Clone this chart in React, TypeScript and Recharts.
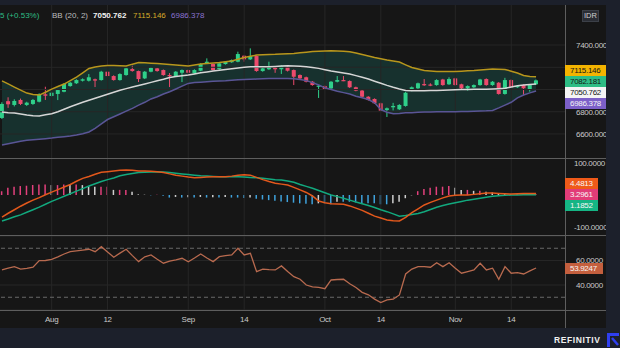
import React from 'react';
import { ComposedChart, Bar, Line, Area, XAxis, YAxis, CartesianGrid, ReferenceLine, Cell } from 'recharts';

// daily candles (IDR)
const OPEN = [6744, 6895, 6861, 6906, 6861, 6870, 6890, 6957, 6942, 6960, 6980, 7031, 7056, 7079, 7079, 7092, 7085, 7160, 7121, 7085, 7130, 7184, 7166, 7100, 7160, 7190, 7175, 7130, 7121, 7151, 7175, 7146, 7169, 7235, 7229, 7184, 7229, 7245, 7250, 7304, 7271, 7301, 7166, 7182, 7196, 7182, 7205, 7175, 7130, 7110, 7070, 7031, 7031, 7010, 7070, 7085, 7076, 7020, 6990, 6935, 6915, 6876, 6816, 6840, 6822, 6852, 6990, 7011, 7049, 7045, 7040, 7090, 7047, 7100, 7047, 7011, 7020, 7040, 7094, 7040, 7061, 6960, 7085, 7020, 7040, 7002, 7047];
const CLOSE = [6870, 6867, 6897, 6870, 6882, 6906, 6957, 6944, 6971, 6995, 7050, 7061, 7085, 7092, 7110, 7080, 7160, 7121, 7085, 7139, 7190, 7166, 7094, 7160, 7196, 7166, 7130, 7121, 7160, 7175, 7151, 7175, 7229, 7250, 7175, 7235, 7250, 7265, 7319, 7271, 7301, 7166, 7190, 7205, 7182, 7211, 7169, 7115, 7100, 7070, 7040, 7035, 7002, 7070, 7085, 7080, 7020, 6990, 6935, 6906, 6876, 6810, 6831, 6852, 6861, 6971, 7020, 7056, 7038, 7036, 7085, 7040, 7094, 7040, 7011, 7031, 7040, 7090, 7040, 7070, 6960, 7085, 7020, 7031, 7011, 7040, 7082];
const HIGH = [6885, 6930, 6912, 6918, 6890, 6915, 6966, 7025, 6980, 7002, 7058, 7068, 7092, 7100, 7139, 7098, 7168, 7166, 7128, 7146, 7196, 7214, 7170, 7166, 7202, 7195, 7180, 7148, 7166, 7180, 7180, 7182, 7236, 7280, 7234, 7240, 7256, 7270, 7340, 7310, 7370, 7306, 7196, 7250, 7202, 7218, 7210, 7180, 7136, 7116, 7076, 7042, 7036, 7076, 7121, 7121, 7082, 7026, 6996, 6940, 6920, 6882, 6838, 6880, 6868, 6978, 7027, 7062, 7094, 7056, 7092, 7096, 7110, 7106, 7052, 7037, 7046, 7096, 7100, 7076, 7067, 7105, 7092, 7037, 7046, 7046, 7090];
const LOW = [6735, 6835, 6848, 6860, 6852, 6862, 6884, 6906, 6935, 6905, 6975, 7025, 7050, 7072, 7072, 7022, 7080, 7115, 7080, 7080, 7124, 7160, 7067, 7094, 7155, 7160, 7124, 7022, 7115, 7067, 7146, 7140, 7164, 7230, 7169, 7178, 7224, 7240, 7245, 7250, 7266, 7160, 7160, 7176, 7150, 7140, 7162, 7040, 7094, 7064, 7034, 6924, 6996, 7004, 7064, 7075, 7014, 6984, 6929, 6900, 6870, 6804, 6753, 6812, 6816, 6846, 6984, 7005, 7032, 7030, 7034, 7034, 7041, 7034, 7005, 6990, 7014, 7034, 7034, 7034, 6954, 6954, 7014, 7014, 6950, 6980, 7041];

// Bollinger (20, 2)
const BB_UPPER = [7077, 7050, 7022, 6995, 6968, 6955, 6950, 6975, 7004, 7027, 7049, 7080, 7112, 7150, 7189, 7203, 7211, 7215, 7216, 7214, 7211, 7228, 7243, 7240, 7237, 7234, 7229, 7224, 7220, 7215, 7211, 7220, 7229, 7234, 7238, 7243, 7250, 7256, 7272, 7288, 7300, 7310, 7313, 7315, 7316, 7319, 7322, 7324, 7330, 7336, 7342, 7345, 7347, 7349, 7347, 7344, 7340, 7328, 7315, 7302, 7288, 7277, 7265, 7256, 7247, 7222, 7198, 7184, 7171, 7166, 7162, 7162, 7162, 7162, 7165, 7168, 7171, 7176, 7180, 7184, 7183, 7180, 7165, 7148, 7126, 7118, 7115];
const BB_MID = [6798, 6792, 6788, 6780, 6770, 6763, 6762, 6772, 6782, 6800, 6822, 6845, 6865, 6886, 6904, 6922, 6940, 6958, 6975, 6993, 7008, 7022, 7036, 7050, 7064, 7078, 7092, 7108, 7116, 7124, 7130, 7140, 7150, 7158, 7166, 7173, 7180, 7187, 7194, 7200, 7205, 7205, 7205, 7205, 7208, 7211, 7214, 7212, 7209, 7205, 7198, 7190, 7178, 7166, 7157, 7148, 7139, 7125, 7110, 7094, 7075, 7056, 7037, 7020, 7005, 6992, 6988, 6988, 6989, 6990, 6992, 6994, 6995, 6997, 6999, 7001, 7002, 7002, 7002, 7004, 7007, 7011, 7022, 7033, 7040, 7045, 7050];
const BB_LOWER = [6501, 6512, 6523, 6534, 6543, 6548, 6553, 6558, 6563, 6570, 6576, 6582, 6590, 6602, 6618, 6650, 6690, 6730, 6755, 6780, 6805, 6830, 6860, 6885, 6915, 6935, 6960, 6980, 7005, 7030, 7055, 7062, 7066, 7070, 7074, 7077, 7079, 7083, 7087, 7090, 7092, 7094, 7097, 7100, 7100, 7100, 7100, 7096, 7090, 7080, 7062, 7040, 7015, 7000, 6985, 6972, 6959, 6940, 6925, 6910, 6880, 6820, 6795, 6782, 6785, 6790, 6792, 6795, 6797, 6798, 6799, 6800, 6800, 6801, 6802, 6803, 6805, 6806, 6808, 6812, 6835, 6860, 6885, 6925, 6950, 6970, 6986];

// MACD
const MACD = [-69, -57, -46, -35, -25, -16, -8, 1, 9, 17, 25, 33, 43, 52, 58, 65, 71, 73, 75, 77, 78, 77, 75, 75, 74, 73, 70, 66, 62, 59, 56, 54, 55, 56, 57, 57, 57, 59, 62, 63, 62, 55, 48, 42, 37, 34, 31, 24, 16, 8, -3, -19, -24, -27, -28, -29, -34, -41, -48, -57, -66, -72, -78, -80, -81, -70, -55, -43, -31, -23, -16, -9, -3, -1, 0, 0, 2, 4, 6, 6, 5, 4, 3, 4, 5, 4.5, 4.48];
const SIGNAL = [-81, -75, -68, -62, -54, -46, -38, -29, -20, -12, -4, 4, 12, 20, 28, 35, 42, 48, 53, 60, 64, 67, 70, 71, 72, 73, 72, 70, 68, 66, 64, 62, 60, 59, 58, 57, 57, 57, 57, 56, 55, 54, 52, 50, 48, 47, 44, 40, 33, 27, 21, 14, 7, 0, -5, -10, -16, -22, -27, -33, -39, -46, -52, -59, -66, -64, -61, -58, -52, -45, -38, -33, -28, -24, -20, -16, -13, -10, -7, -4, -2, -1, 0, 0, 0.5, 1, 1.19];
const HIST = [12, 23, 26, 28, 29, 31, 33, 33, 31, 31, 33, 31, 33, 31, 28, 26, 26, 26, 16, 16, 16, 10, 2, 1, -1, 1, -2, -8, -6, -8, -7, -8, -6, -8, -7, -8, -6, -8, -8, -9, -8, -12, -14, -16, -18, -20, -22, -24, -26, -27, -29, -26, -26, -29, -21, -21, -21, -23, -26, -26, -26, -29, -29, -26, -21, -10, -1, 12, 19, 23, 26, 26, 28, 23, 16, 16, 13, 13, 10, 8, 5, 3, 2, 2, 3, 3, 3.3];

// RSI
const RSI = [52.3, 53.7, 55, 52.9, 53.5, 54.5, 59.9, 60, 61, 63, 65.3, 67.2, 67.8, 68.5, 69.2, 67.2, 71.3, 67, 62.7, 66, 69.2, 64, 59.1, 63, 64.5, 61, 57.8, 59.5, 60.5, 61.8, 59, 62, 65.3, 62, 59.1, 63.1, 64, 64.5, 70, 64.5, 65.9, 50.9, 52.9, 52.5, 52.3, 55.6, 51, 46.8, 44.7, 40, 38.5, 38, 37, 44.1, 44.5, 44.7, 41, 38, 34, 32, 28.5, 25.6, 27.8, 28.4, 31.9, 49, 53, 55, 55, 54.5, 58.2, 55, 58.2, 53.7, 49.6, 51, 52.3, 57.8, 52.3, 53.7, 44.7, 55, 49.6, 50.1, 49, 51.5, 53.9];

const TICK_IDX = [8, 17, 30, 39, 52, 61, 73, 82];
const TICK_LABELS = ['Aug', '12', 'Sep', '14', 'Oct', '14', 'Nov', '14'];
const PRICE_TICKS = [6600, 6800, 7400];
const PRICE_GRID = [6600, 6800, 7000, 7200, 7400];

const data = OPEN.map((o, i) => ({
  i, open: o, close: CLOSE[i], high: HIGH[i], low: LOW[i],
  upper: BB_UPPER[i], mid: BB_MID[i], lower: BB_LOWER[i], band: [BB_LOWER[i], BB_UPPER[i]],
  macd: MACD[i], signal: SIGNAL[i], hist: HIST[i], rsi: RSI[i],
}));

const BG = '#161616';
const NAVY = '#1c202b';
const GRID = '#262626';
const SEP = '#5e5e5e';
const AXIS_TXT = '#c9c9c9';
const UP = '#2fd08a';
const DOWN = '#ec4a6c';
const FONT = '"Liberation Sans", Arial, sans-serif';
const X_DOMAIN = [-0.32, 90.66];
const W = 606;

const tickStyle = { fill: AXIS_TXT, fontSize: 8, fontFamily: FONT, letterSpacing: -0.3 };

const Candle = (props: any) => {
  const { x, y, width, height, payload } = props;
  if (!payload) return null;
  const { open, close, high, low } = payload;
  const color = close >= open ? UP : DOWN;
  const cx = x + width / 2;
  const py = (p: number) => y + ((high - p) / (high - low)) * height;
  const top = py(Math.max(open, close));
  const bot = py(Math.min(open, close));
  return (
    <g>
      <line x1={cx} x2={cx} y1={y} y2={y + height} stroke={color} strokeWidth={1} />
      <rect x={cx - 2} y={top} width={4} height={Math.max(1.2, bot - top)} fill={color} />
    </g>
  );
};

const histColor = (v: number, prev: number) =>
  v >= 0 ? (v >= prev ? '#e2407c' : '#cfcfcf') : (v <= prev ? '#3fa2dc' : '#cfcfcf');

const vGrid = TICK_IDX.map((t) => <ReferenceLine key={t} x={t} stroke={GRID} strokeWidth={1} />);

function Box({ top, left = 565, width = 41, bg, color, text }: any) {
  return (
    <div style={{
      position: 'absolute', top, left, width, height: 11, background: bg, color,
      fontSize: 8, letterSpacing: -0.3, lineHeight: '11px', fontFamily: FONT, paddingLeft: 5, boxSizing: 'border-box',
    }}>{text}</div>
  );
}

function Txt({ left, top, color, text, bold = false }: any) {
  return (
    <span style={{
      position: 'absolute', left, top, color, fontSize: 8, fontFamily: FONT,
      fontWeight: bold ? 700 : 400, whiteSpace: 'nowrap',
    }}>{text}</span>
  );
}

export default function App() {
  return (
    <div style={{ position: 'absolute', left: 0, top: 0, width: 620, height: 348, background: NAVY, overflow: 'hidden' }}>
      <div style={{ position: 'absolute', left: 0, top: 5, width: W, height: 323, background: BG }} />

      {/* price + bollinger */}
      <div style={{ position: 'absolute', left: 0, top: 5 }}>
        <ComposedChart width={W} height={153} data={data} margin={{ top: 0, right: 0, left: 0, bottom: 0 }}>
          <XAxis type="number" dataKey="i" domain={X_DOMAIN} hide allowDataOverflow />
          <YAxis orientation="right" width={41} domain={[6384, 7760]} ticks={PRICE_TICKS}
            tick={tickStyle} tickFormatter={(v) => v.toFixed(3)} axisLine={false} tickLine={false} tickMargin={5} allowDataOverflow />
          {PRICE_GRID.map((p) => <ReferenceLine key={p} y={p} stroke={GRID} strokeWidth={1} />)}
          {vGrid}
          <Area dataKey="band" stroke="none" fill="#173633" fillOpacity={0.85} isAnimationActive={false} />
          <Line dataKey="upper" stroke="#b8961c" strokeWidth={1.5} dot={false} isAnimationActive={false} />
          <Line dataKey="lower" stroke="#5a5596" strokeWidth={1.5} dot={false} isAnimationActive={false} />
          <Line dataKey="mid" stroke="#d6d6d6" strokeWidth={1.5} dot={false} isAnimationActive={false} />
          <Bar dataKey={(d: any) => [d.low, d.high]} barSize={4} shape={Candle} isAnimationActive={false} />
        </ComposedChart>
      </div>

      {/* MACD */}
      <div style={{ position: 'absolute', left: 0, top: 158 }}>
        <ComposedChart width={W} height={78} data={data} margin={{ top: 0, right: 0, left: 0, bottom: 0 }}>
          <XAxis type="number" dataKey="i" domain={X_DOMAIN} hide allowDataOverflow />
          <YAxis orientation="right" width={41} domain={[-128, 115.6]} ticks={[-100, 100]}
            tick={tickStyle} tickFormatter={(v) => v.toFixed(4)} axisLine={false} tickLine={false} tickMargin={3} allowDataOverflow />
          {vGrid}
          <Bar dataKey="hist" barSize={1.5} isAnimationActive={false}>
            {HIST.map((v, i) => <Cell key={i} fill={histColor(v, i ? HIST[i - 1] : v)} />)}
          </Bar>
          <Line dataKey="signal" stroke="#12a97e" strokeWidth={1.5} dot={false} isAnimationActive={false} />
          <Line dataKey="macd" stroke="#e2581c" strokeWidth={1.5} dot={false} isAnimationActive={false} />
        </ComposedChart>
      </div>

      {/* RSI */}
      <div style={{ position: 'absolute', left: 0, top: 236 }}>
        <ComposedChart width={W} height={92} data={data} margin={{ top: 0, right: 0, left: 0, bottom: 0 }}>
          <CartesianGrid stroke={GRID} vertical={false} />
          <XAxis type="number" dataKey="i" domain={X_DOMAIN} ticks={TICK_IDX} height={18} allowDataOverflow
            tickFormatter={(v) => TICK_LABELS[TICK_IDX.indexOf(v)] ?? ''} tick={tickStyle}
            axisLine={false} tickLine={false} tickSize={0} tickMargin={6} />
          <YAxis orientation="right" width={41} domain={[19.6, 80]} ticks={[40, 60]}
            tick={tickStyle} tickFormatter={(v) => v.toFixed(4)} axisLine={false} tickLine={false} tickMargin={5} allowDataOverflow />
          {vGrid}
          <ReferenceLine y={70} stroke="#6a6a6a" strokeDasharray="4 3" />
          <ReferenceLine y={30} stroke="#6a6a6a" strokeDasharray="4 3" />
          <Line dataKey="rsi" stroke="#b86a4f" strokeWidth={1.3} dot={false} isAnimationActive={false} />
        </ComposedChart>
      </div>

      {/* panel separators */}
      <div style={{ position: 'absolute', left: 0, top: 158, width: W, height: 1, background: SEP }} />
      <div style={{ position: 'absolute', left: 0, top: 235, width: W, height: 1, background: SEP }} />
      <div style={{ position: 'absolute', left: 0, top: 310, width: W, height: 1, background: SEP }} />
      <div style={{ position: 'absolute', left: 565, top: 5, width: 1, height: 323, background: SEP }} />

      {/* legend */}
      <Txt left={0} top={11} color="#2ebd85" text="5 (+0.53%)" />
      <Txt left={52} top={11} color="#bdbdbd" text="BB (20, 2)" />
      <Txt left={93} top={11} color="#f2f2f2" bold text="7050.762" />
      <Txt left={133} top={11} color="#d8ad2a" text="7115.146" />
      <Txt left={171} top={11} color="#8a73d2" text="6986.378" />

      <div style={{
        position: 'absolute', left: 582, top: 10, width: 17, height: 12, background: '#2a2d34', border: '1px solid #3c4048',
        color: '#d0d0d0', fontSize: 7.5, lineHeight: '10px', textAlign: 'center', fontFamily: FONT, boxSizing: 'border-box',
      }}>IDR</div>

      {/* last value tags */}
      <Box top={65} bg="#f4b400" color="#151515" text="7115.146" />
      <Box top={76} bg="#2ebd85" color="#151515" text="7082.181" />
      <Box top={87} bg="#f4f4f4" color="#151515" text="7050.762" />
      <Box top={98} bg="#7c5fc8" color="#f4f4f4" text="6986.378" />

      <Box top={178} width={33} bg="#ef5a19" color="#f6f6f6" text="4.4813" />
      <Box top={189} width={33} bg="#e23c78" color="#f6f6f6" text="3.2961" />
      <Box top={200} width={33} bg="#15b584" color="#f6f6f6" text="1.1852" />

      <Box top={263} width={38} bg="#c45f3e" color="#f6f6f6" text="53.9247" />

      {/* footer */}
      <div style={{
        position: 'absolute', left: 554, top: 335, color: '#f0f0f0', fontSize: 8.5, fontWeight: 700,
        letterSpacing: 0.6, fontFamily: FONT,
      }}>REFINITIV</div>
      <svg style={{ position: 'absolute', left: 606, top: 332 }} width={14} height={16}>
        <path d="M1 1 H13 V4 H4 V15 H1 Z" fill="#2f3ff0" />
        <path d="M6 6 L12 13" stroke="#2f3ff0" strokeWidth={2.5} />
      </svg>
    </div>
  );
}
